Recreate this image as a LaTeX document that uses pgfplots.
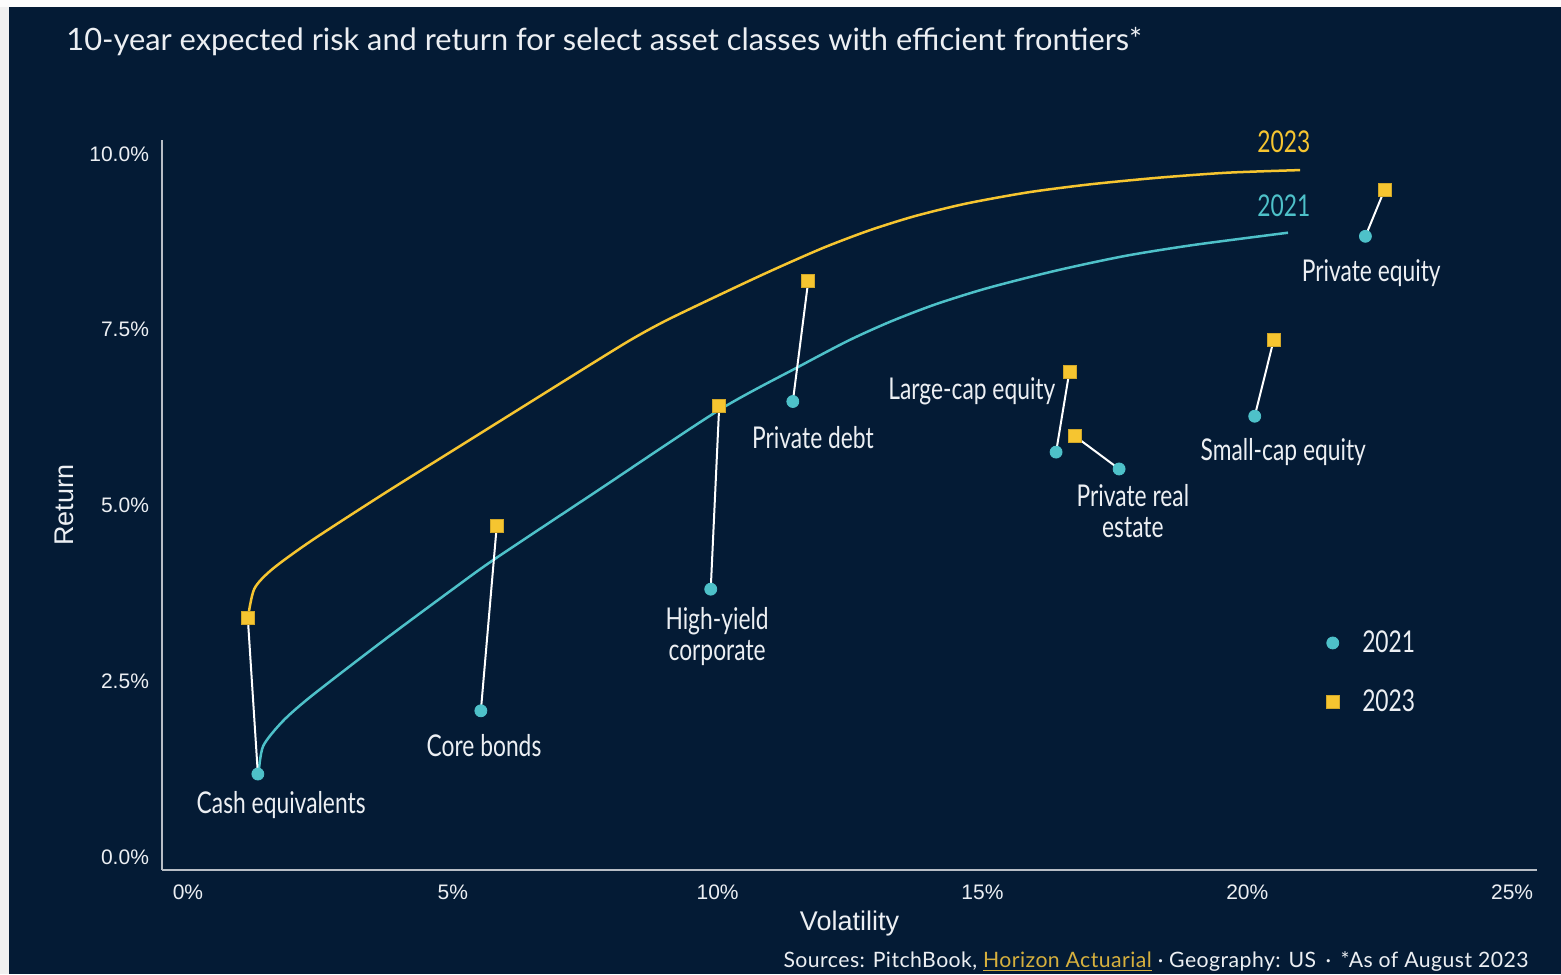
\documentclass[border=0pt]{standalone}
\usepackage{fontspec}
\usepackage{pgfplots}
\pgfplotsset{compat=1.18}
\usepackage{pgfplotstable}
\setmainfont{Liberation Sans}
\newfontfamily\titlefont{Lato}
\newfontfamily\condfont{Lato}[FakeStretch=0.76]
\newfontfamily\footfont{Lato}[LetterSpace=2.2]

\definecolor{bgnavy}{RGB}{4,27,53}
\definecolor{gold}{RGB}{246,197,48}
\definecolor{linkgold}{RGB}{214,176,62}
\definecolor{teal}{RGB}{78,193,201}
\definecolor{textwhite}{RGB}{236,239,243}
\definecolor{axisgray}{RGB}{184,190,198}

% Volatility / return for 2021 and 2023 per asset class
\pgfplotstableread{
name x21 y21 x23 y23
cash 1.32 1.18 1.13 3.40
core 5.53 2.08 5.83 4.71
hy 9.87 3.81 10.03 6.42
pd 11.42 6.48 11.71 8.19
lc 16.39 5.76 16.64 6.90
pre 17.58 5.52 16.74 5.99
sc 20.14 6.27 20.50 7.36
pe 22.23 8.83 22.59 9.49
}\assets

% Efficient frontier, 2023
\pgfplotstableread{
x y
1.131 3.397
1.252 3.814
1.588 4.092
2.330 4.499
3.680 5.159
5.028 5.795
6.377 6.430
7.725 7.064
8.401 7.375
9.075 7.650
10.423 8.135
11.178 8.397
12.024 8.675
12.868 8.915
13.714 9.115
14.690 9.295
15.859 9.455
17.030 9.569
18.331 9.664
19.632 9.735
20.997 9.772
}\frontierB

% Efficient frontier, 2021
\pgfplotstableread{
x y
1.333 1.186
1.420 1.578
1.792 1.933
2.330 2.289
3.680 3.073
5.028 3.826
5.804 4.245
7.723 5.206
10.027 6.358
11.556 6.985
12.480 7.350
13.259 7.615
14.105 7.860
15.080 8.090
16.380 8.340
17.681 8.549
18.980 8.706
20.769 8.881
}\frontierA

\begin{document}
\begin{tikzpicture}
\useasboundingbox (0pt,0pt) rectangle (780.5pt,487pt);
\fill[bgnavy] (0pt,0pt) rectangle (780.5pt,487pt);
\fill[white!98!gray] (0pt,483.5pt) rectangle (780.5pt,487pt);
\fill[white!88!gray] (0pt,0pt) rectangle (4.5pt,483.5pt);

\node[anchor=base west, text=textwhite, inner sep=0pt,
      font=\titlefont\fontsize{15.4}{18}\selectfont] at (33pt,461.5pt)
  {10-year expected risk and return for select asset classes with efficient frontiers*};

\begin{axis}[
  at={(81pt,52pt)}, anchor=south west,
  scale only axis, width=687.5pt, height=365pt,
  xmin=-0.49, xmax=25.47, ymin=-0.185, ymax=10.2,
  clip=false,
  axis x line=bottom, axis y line=left,
  axis line style={-, draw=axisgray, line width=1pt},
  major tick length=0pt,
  xtick={0,5,...,25}, xticklabels={0\%,5\%,10\%,15\%,20\%,25\%},
  ytick={0,2.5,5,7.5,10}, yticklabels={0.0\%,2.5\%,5.0\%,7.5\%,10.0\%},
  /pgf/number format/assume math mode=true,
  tick label style={font=\fontsize{10.5}{12}\selectfont, text=textwhite},
  xticklabel style={yshift=-4pt},
  yticklabel style={xshift=-3pt},
  xlabel={Volatility}, ylabel={Return},
  label style={font=\fontsize{13.5}{16}\selectfont, text=textwhite},
  xlabel style={at={(axis description cs:0.5,-0.0822)}, anchor=base},
  ylabel style={at={(axis description cs:-0.0713,0.5)}, anchor=center},
  unbounded coords=jump,
  legend style={at={(axis cs:21.37,3.34)}, anchor=north west, draw=none, fill=none,
    text=textwhite, font=\condfont\fontsize{15}{18}\selectfont, row sep=13pt, column sep=9.5pt},
  legend cell align=left,
]
% frontiers
\addplot[gold, line width=1.25pt, smooth, tension=0.45, forget plot] table[x=x,y=y]{\frontierB};
\addplot[teal, line width=1.25pt, smooth, tension=0.45, forget plot] table[x=x,y=y]{\frontierA};

% connectors 2021 -> 2023
\addplot[white, line width=1pt, forget plot] coordinates {
  (1.32,1.18) (1.13,3.40) (nan,nan)
  (5.53,2.08) (5.83,4.71) (nan,nan)
  (9.87,3.81) (10.03,6.42) (nan,nan)
  (11.42,6.48) (11.71,8.19) (nan,nan)
  (16.39,5.76) (16.64,6.90) (nan,nan)
  (17.58,5.52) (16.74,5.99) (nan,nan)
  (20.14,6.27) (20.50,7.36) (nan,nan)
  (22.23,8.83) (22.59,9.49)
};

% points
\addplot[only marks, mark=*, mark size=3pt, mark options={fill=teal, draw=teal}, forget plot]
  table[x=x21,y=y21]{\assets};
\addplot[only marks, mark=square*, mark size=3.25pt, mark options={fill=gold, draw=gold!85!black, line width=0.3pt}, forget plot]
  table[x=x23,y=y23]{\assets};

\addlegendimage{only marks, mark=*, mark size=3pt, mark options={fill=teal, draw=teal}}
\addlegendentry{2021}
\addlegendimage{only marks, mark=square*, mark size=3.25pt, mark options={fill=gold, draw=gold!85!black, line width=0.3pt}}
\addlegendentry{2023}

% labels
\begin{scope}[every node/.style={text=textwhite, font=\condfont\fontsize{15}{15.5}\selectfont, align=center}]
\node at (axis cs:1.76,0.74) {Cash equivalents};
\node at (axis cs:5.59,1.59) {Core bonds};
\node at (axis cs:9.99,3.14) {High-yield\\corporate};
\node at (axis cs:11.80,5.97) {Private debt};
\node at (axis cs:14.80,6.63) {Large-cap equity};
\node at (axis cs:17.84,4.92) {Private real\\estate};
\node at (axis cs:20.68,5.76) {Small-cap equity};
\node at (axis cs:22.34,8.30) {Private equity};
\node[text=gold] at (axis cs:20.69,10.17) {2023};
\node[text=teal] at (axis cs:20.69,9.27) {2021};
\end{scope}
\end{axis}

\node[anchor=base east, inner sep=0pt, text=textwhite, font=\footfont\fontsize{10.6}{13}\selectfont] at (764.5pt,3.5pt)
  {Sources: PitchBook, \textcolor{linkgold}{\underline{Horizon Actuarial}} · Geography: US \,·\, *As of August 2023};
\end{tikzpicture}
\end{document}
